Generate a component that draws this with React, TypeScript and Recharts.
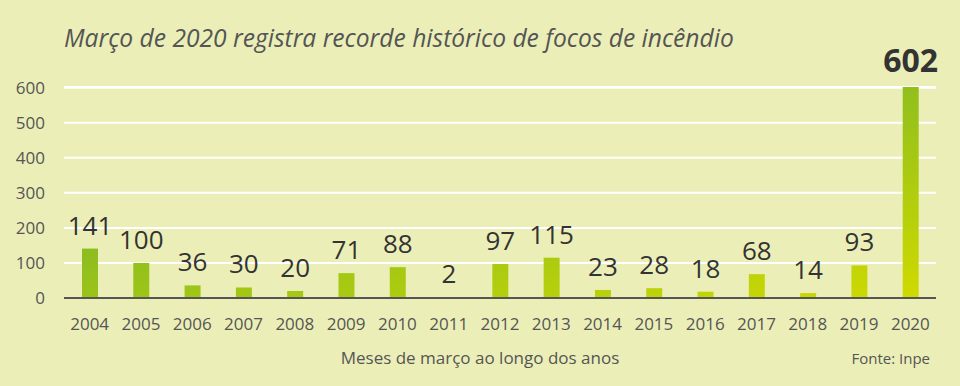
import React from "react";
import { BarChart, Bar, XAxis, YAxis, CartesianGrid, LabelList } from "recharts";

const years = ["2004","2005","2006","2007","2008","2009","2010","2011","2012","2013","2014","2015","2016","2017","2018","2019","2020"];
const focos = [141,100,36,30,20,71,88,2,97,115,23,28,18,68,14,93,602];
const yTicks = [0,100,200,300,400,500,600];

const data = years.map((y, i) => ({ year: y, value: focos[i] }));

const FONT = "'Open Sans', sans-serif";

const ValueLabel = (props: any) => {
  const { x, y, width, value } = props;
  const big = value === 602;
  return (
    <text
      x={x + width / 2}
      y={y - (big ? 15 : 14)}
      textAnchor="middle"
      fill="#333"
      fontFamily={FONT}
      fontSize={big ? 32 : 26}
      fontWeight={big ? 700 : 400}
    >
      {value}
    </text>
  );
};

export default function App() {
  return (
    <div style={{ position: "absolute", left: 0, top: 0, width: 960, height: 386, background: "#ebefb7", overflow: "hidden" }}>
      <div style={{ position: "absolute", left: 64, top: 21, fontFamily: FONT, fontStyle: "italic", fontSize: 24.6, color: "#555", whiteSpace: "nowrap" }}>
        Março de 2020 registra recorde histórico de focos de incêndio
      </div>
      <BarChart width={960} height={386} data={data} margin={{ top: 87, right: 24, bottom: 58, left: 0 }}>
        <defs>
          <linearGradient id="barGrad" gradientUnits="userSpaceOnUse" x1={80} y1={250} x2={127} y2={468}>
            <stop offset="0" stopColor="#8cbd1f" />
            <stop offset="1" stopColor="#cfda00" />
          </linearGradient>
        </defs>
        <CartesianGrid vertical={false} stroke="#ffffff" strokeWidth={2} strokeOpacity={1} />
        <XAxis
          dataKey="year"
          axisLine={{ stroke: "#555", strokeWidth: 2 }}
          tickLine={false}
          tickSize={0}
          tickMargin={20}
          height={30}
          tick={{ fill: "#555", fontSize: 17, fontFamily: FONT }}
          interval={0}
        />
        <YAxis
          domain={[0, 602]}
          ticks={yTicks}
          width={64}
          axisLine={false}
          tickLine={false}
          tickSize={0}
          tickMargin={19}
          tick={{ fill: "#555", fontSize: 17, fontFamily: FONT }}
        />
        <Bar dataKey="value" fill="url(#barGrad)" barSize={16} isAnimationActive={false}>
          <LabelList dataKey="value" content={<ValueLabel />} />
        </Bar>
      </BarChart>
      <div style={{ position: "absolute", left: 0, width: 960, top: 346, textAlign: "center", fontFamily: FONT, fontSize: 17, color: "#555" }}>
        Meses de março ao longo dos anos
      </div>
      <div style={{ position: "absolute", right: 30, top: 348, fontFamily: FONT, fontSize: 15, color: "#555" }}>
        Fonte: Inpe
      </div>
    </div>
  );
}
